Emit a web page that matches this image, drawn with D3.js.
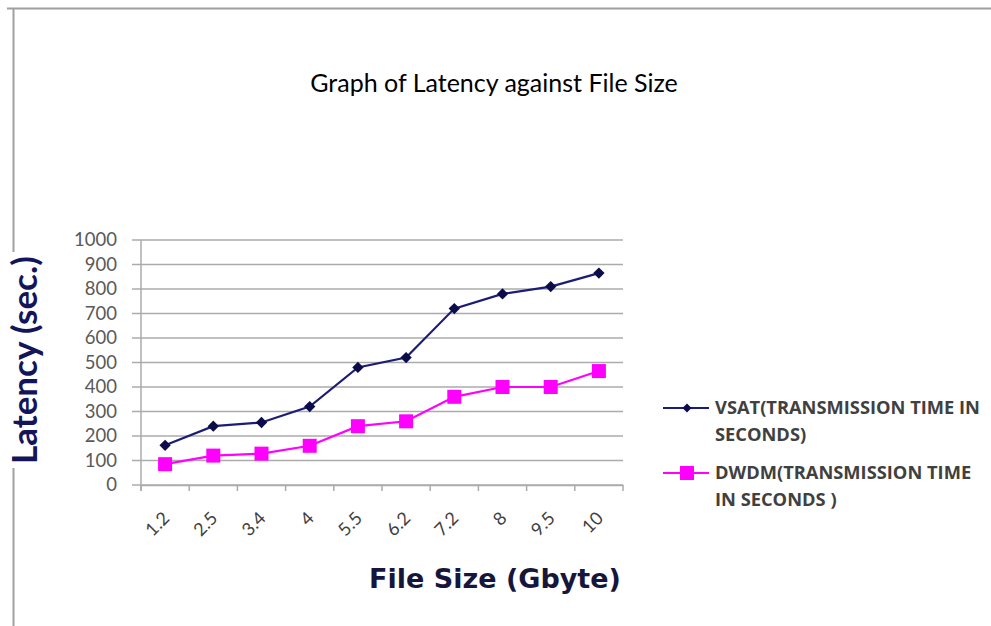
<!DOCTYPE html>
<html>
<head>
<meta charset="utf-8">
<script src="https://cdn.jsdelivr.net/npm/d3@7"></script>
<style>
body{margin:0;background:#fff;}
</style>
</head>
<body>
<div id="chart"></div>
<script>
var fileSizes=["1.2","2.5","3.4","4","5.5","6.2","7.2","8","9.5","10"];
var vsat=[162,240,255,320,480,520,720,780,810,865];
var dwdm=[85,120,128,160,240,260,360,400,400,465];
var yTicks=[0,100,200,300,400,500,600,700,800,900,1000];
var seriesNames=["VSAT(TRANSMISSION TIME IN|SECONDS)","DWDM(TRANSMISSION TIME|IN SECONDS )"];
var seriesColors=["#1c1c78","#ff00ff"];

var W=991,H=626;
var svg=d3.select("#chart").append("svg").attr("width",W).attr("height",H);

// frame (top and left edge of the pasted chart)
svg.append("line").attr("x1",7).attr("x2",W).attr("y1",8.5).attr("y2",8.5)
   .attr("stroke","#a0a0a0").attr("stroke-width",2);
svg.append("line").attr("x1",13.5).attr("x2",13.5).attr("y1",8).attr("y2",252)
   .attr("stroke","#a0a0a0").attr("stroke-width",2);
svg.append("line").attr("x1",13.5).attr("x2",13.5).attr("y1",468).attr("y2",H)
   .attr("stroke","#a0a0a0").attr("stroke-width",2);

var x=d3.scaleBand().domain(fileSizes).range([141,623]);
var y=d3.scaleLinear().domain([0,1000]).range([485,240]);

// gridlines
svg.append("g").selectAll("line").data(yTicks).enter().append("line")
   .attr("x1",132).attr("x2",623)
   .attr("y1",function(d){return y(d);}).attr("y2",function(d){return y(d);})
   .attr("stroke","#ababab").attr("stroke-width",1.5);
svg.append("line").attr("x1",141).attr("x2",141).attr("y1",y(1000)).attr("y2",491)
   .attr("stroke","#ababab").attr("stroke-width",1.5);

// y labels
var yAxis=svg.append("g").attr("transform","translate(132,0)")
   .call(d3.axisLeft(y).tickValues(yTicks).tickFormat(d3.format("d")).tickSize(0).tickPadding(15));
yAxis.select(".domain").remove();
yAxis.selectAll("text").attr("fill","#595959").style("font-family","Lato, sans-serif").style("font-size","18.5px");

// x axis
var xAxis=svg.append("g").attr("transform","translate(0,485)")
   .call(d3.axisBottom(x).tickSize(0).tickPadding(0));
xAxis.select(".domain").attr("stroke","#ababab").attr("stroke-width",1.5);
xAxis.selectAll("text")
   .attr("fill","#404040").style("font-family","Lato, sans-serif").style("font-size","18px")
   .attr("text-anchor","end")
   .attr("y",0)
   .attr("transform","translate(1,30) rotate(-45)")
   .attr("dy","0.35em");
var bounds=x.domain().map(function(d){return x(d);}).concat([x.range()[1]]);
svg.append("g").selectAll("line").data(bounds).enter().append("line")
   .attr("x1",function(d){return d;}).attr("x2",function(d){return d;})
   .attr("y1",485).attr("y2",491).attr("stroke","#ababab").attr("stroke-width",1.5);

var line=d3.line()
   .x(function(d,i){return x(fileSizes[i])+x.bandwidth()/2;})
   .y(function(d){return y(d);});

// VSAT
svg.append("path").datum(vsat).attr("d",line).attr("fill","none")
   .attr("stroke",seriesColors[0]).attr("stroke-width",2.2);
svg.append("g").selectAll("path").data(vsat).enter().append("path")
   .attr("d",d3.symbol().type(d3.symbolSquare).size(64))
   .attr("transform",function(d,i){return "translate("+(x(fileSizes[i])+x.bandwidth()/2)+","+y(d)+") rotate(45)";})
   .attr("fill","#0c0c4a");

// DWDM
svg.append("path").datum(dwdm).attr("d",line).attr("fill","none")
   .attr("stroke",seriesColors[1]).attr("stroke-width",2.2);
svg.append("g").selectAll("rect").data(dwdm).enter().append("rect")
   .attr("x",function(d,i){return x(fileSizes[i])+x.bandwidth()/2-7;})
   .attr("y",function(d){return y(d)-7;})
   .attr("width",14).attr("height",14)
   .attr("fill","#ff00ff");

// legend
var legend=svg.append("g");
var legY=[408,473];
seriesNames.forEach(function(name,i){
  var g=legend.append("g").attr("transform","translate(663,"+legY[i]+")");
  g.append("line").attr("x1",0).attr("x2",46).attr("y1",0).attr("y2",0)
   .attr("stroke",seriesColors[i]).attr("stroke-width",2.2);
  if(i==0){
    g.append("path").attr("d",d3.symbol().type(d3.symbolSquare).size(40))
     .attr("transform","translate(24,0) rotate(45)").attr("fill","#0c0c4a");
  } else {
    g.append("rect").attr("x",17).attr("y",-7).attr("width",14).attr("height",14).attr("fill","#ff00ff");
  }
  var t=g.append("text").attr("x",52).attr("y",0).attr("fill","#404040")
   .style("font-family","'Open Sans', sans-serif").style("font-weight","bold").style("font-size","18.3px");
  name.split("|").forEach(function(s,j){
    t.append("tspan").attr("x",52).attr("dy",j==0?"0.35em":"27px").text(s);
  });
});

// titles
svg.append("text").attr("x",494).attr("y",92).attr("text-anchor","middle")
   .attr("fill","#000").style("font-family","Lato, sans-serif").style("font-size","25px")
   .text("Graph of Latency against File Size");

svg.append("text").attr("transform","translate(37,360) rotate(-90)").attr("text-anchor","middle")
   .attr("fill","#14145a").style("font-family","Lato, sans-serif").style("font-weight","bold").style("font-size","35px")
   .text("Latency (sec.)");

svg.append("text").attr("x",495).attr("y",588).attr("text-anchor","middle")
   .attr("fill","#16163c").style("font-family","'DejaVu Sans', sans-serif").style("font-weight","bold").style("font-size","27px")
   .text("File Size (Gbyte)");
</script>
</body>
</html>
